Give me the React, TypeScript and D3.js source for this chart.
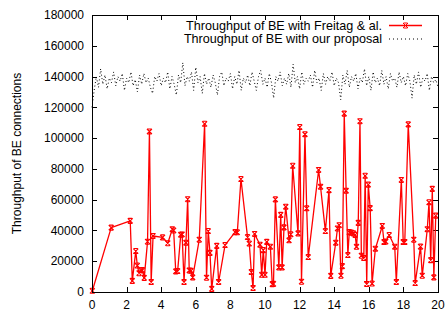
import React, { useEffect, useRef } from 'react';
import * as d3 from 'd3';

// red series: Throughput of BE with Freitag & al.
const freitagX = [
  0.02, 1.11, 2.21, 2.33, 2.53, 2.62, 2.72, 2.83, 2.92, 3.02, 3.21, 3.32, 3.42, 3.53, 4.08, 4.38,
  4.64, 4.72, 4.84, 4.95, 5.13, 5.21, 5.32, 5.43, 5.53, 5.62, 5.72, 5.82, 6.2, 6.51, 6.62, 6.72,
  6.82, 6.92, 7.21, 7.32, 7.69, 8.27, 8.4, 8.61, 8.99, 9.09, 9.21, 9.31, 9.4, 9.71, 9.81, 9.9,
  10.0, 10.1, 10.31, 10.42, 10.49, 10.6, 10.8, 10.91, 10.99, 11.1, 11.2, 11.39, 11.49, 11.6, 11.91, 12.01,
  12.11, 12.31, 12.41, 12.5, 13.1, 13.21, 13.49, 13.7, 13.8, 14.09, 14.19, 14.29, 14.39, 14.47, 14.58, 14.69,
  14.79, 14.87, 14.99, 15.11, 15.21, 15.29, 15.39, 15.49, 15.57, 15.71, 15.79, 15.88, 15.97, 16.08, 16.19, 16.38,
  16.78, 16.88, 16.98, 17.18, 17.5, 17.59, 17.88, 17.99, 18.08, 18.28, 18.6, 18.68, 18.99, 19.09, 19.38, 19.48,
  19.58, 19.67, 19.76, 19.87,
];
const freitagY = [
  800, 41800, 46200, 7200, 26600, 17200, 12200, 14100, 14200, 9200, 32700, 104300, 6500, 36400, 35500, 31700,
  40800, 40000, 13400, 13600, 37200, 37400, 6500, 32000, 60300, 14000, 13800, 9500, 34000, 109300, 9300, 39600,
  25400, 2000, 30000, 6500, 30500, 38900, 38800, 73400, 35700, 31500, 13000, 2600, 37700, 30700, 11200, 27200,
  11200, 32600, 29400, 5100, 5300, 60200, 16000, 50100, 16000, 42000, 55400, 33600, 37500, 82000, 38100, 107200,
  6700, 102500, 54400, 22700, 79300, 68400, 39600, 66200, 10500, 32000, 41300, 43400, 10600, 16800, 115900, 65800,
  24000, 38900, 38600, 38100, 37100, 29400, 44900, 111000, 23600, 22100, 75500, 5200, 69800, 54500, 5500, 28100,
  42900, 32500, 32800, 37000, 29400, 6500, 72800, 32500, 32500, 108900, 34000, 5800, 29500, 10600, 40800, 58300,
  20700, 67000, 9500, 49600,
];

// black dotted series: Throughput of BE with our proposal (thousands, one sample every 0.125)
const proposalStep = 0.125;
const proposalK = [
  120, 131, 140, 133, 145, 135, 141, 132, 139, 136, 143, 134, 140, 137, 142, 131,
  139, 136, 143, 134, 138, 130, 141, 135, 142, 136, 139, 133, 129, 140, 137, 142,
  134, 139, 136, 143, 132, 140, 135, 128, 141, 136, 149, 134, 140, 137, 143, 131,
  146, 136, 140, 129, 142, 135, 139, 133, 141, 136, 128, 140, 143, 134, 139, 137,
  142, 132, 140, 135, 144, 131, 139, 136, 141, 134, 143, 137, 131, 140, 144, 135,
  139, 133, 142, 136, 126, 140, 137, 143, 134, 139, 135, 142, 133, 148, 136, 140,
  132, 143, 135, 139, 137, 141, 133, 144, 136, 139, 131, 142, 135, 140, 137, 143,
  134, 139, 136, 125, 141, 135, 144, 133, 140, 137, 142, 132, 139, 136, 145, 134,
  140, 131, 143, 136, 139, 134, 144, 135, 140, 132, 142, 137, 139, 133, 143, 136,
  140, 134, 142, 137, 126, 141, 135, 143, 133, 139, 137, 142, 131, 140, 136, 138,
  133,
];

const xTicks = [0, 2, 4, 6, 8, 10, 12, 14, 16, 18, 20];
const yTicks = [0, 20000, 40000, 60000, 80000, 100000, 120000, 140000, 160000, 180000];
const legendLabels = ['Throughput of BE with Freitag & al.', 'Throughput of BE with our proposal'];
const yLabel = 'Throughput of BE connections';

const App: React.FC = () => {
  const svgRef = useRef<SVGSVGElement>(null);

  useEffect(() => {
    d3.select(svgRef.current).selectAll('*').remove();

    const width = 448;
    const height = 315;
    const margin = { top: 15, right: 10, bottom: 23, left: 92 };
    const font = '"Liberation Sans", Arial, Helvetica, sans-serif';

    const svg = d3.select(svgRef.current)
      .attr('width', width)
      .attr('height', height)
      .style('background', '#fff')
      .style('font-family', font);

    const x = d3.scaleLinear().domain([0, 20]).range([margin.left, width - margin.right]);
    const y = d3.scaleLinear().domain([0, 180000]).range([height - margin.bottom, margin.top]);
    const [x0, x1] = x.range();
    const [y0, y1] = y.range();
    const tick = 5;

    // ticks (gnuplot style: inward and mirrored)
    const tg = svg.append('g').attr('stroke', '#000').attr('stroke-width', 1);
    xTicks.forEach(t => {
      const px = Math.round(x(t)) + 0.5;
      tg.append('line').attr('x1', px).attr('x2', px).attr('y1', y0).attr('y2', y0 - tick);
      tg.append('line').attr('x1', px).attr('x2', px).attr('y1', y1).attr('y2', y1 + tick);
    });
    yTicks.forEach(t => {
      const py = Math.round(y(t)) + 0.5;
      tg.append('line').attr('x1', x0).attr('x2', x0 + tick).attr('y1', py).attr('y2', py);
      tg.append('line').attr('x1', x1).attr('x2', x1 - tick).attr('y1', py).attr('y2', py);
    });

    svg.append('g')
      .selectAll('text')
      .data(xTicks)
      .join('text')
      .attr('x', d => x(d))
      .attr('y', y0 + 17)
      .attr('text-anchor', 'middle')
      .attr('font-size', 12)
      .attr('fill', '#000')
      .text(d => d);

    svg.append('g')
      .selectAll('text')
      .data(yTicks)
      .join('text')
      .attr('x', x0 - 8)
      .attr('y', d => y(d))
      .attr('dy', '0.35em')
      .attr('text-anchor', 'end')
      .attr('font-size', 12)
      .attr('fill', '#000')
      .text(d => d);

    svg.append('text')
      .attr('transform', `translate(21,${(y0 + y1) / 2}) rotate(-90)`)
      .attr('text-anchor', 'middle')
      .attr('font-size', 12)
      .attr('fill', '#000')
      .text(yLabel);

    // proposal series, dotted black
    const proposal = proposalK.map((v, i) => ({ x: i * proposalStep, y: v * 1000 }));
    const line = d3.line<{ x: number; y: number }>().x(d => x(d.x)).y(d => y(d.y));
    svg.append('path')
      .datum(proposal)
      .attr('fill', 'none')
      .attr('stroke', '#000')
      .attr('stroke-width', 1)
      .attr('stroke-dasharray', '1,2.5')
      .attr('d', line);

    // Freitag series, red with x points
    const freitag = freitagX.map((v, i) => ({ x: v, y: freitagY[i] }));
    svg.append('path')
      .datum(freitag)
      .attr('fill', 'none')
      .attr('stroke', '#ff0000')
      .attr('stroke-width', 1.3)
      .attr('stroke-linejoin', 'round')
      .attr('d', line);

    const marker = 'M-2.5,-2.5L2.5,2.5M-2.5,2.5L2.5,-2.5M-2,-2.5L2,-2.5M-2,2.5L2,2.5';
    svg.append('g')
      .selectAll('path')
      .data(freitag)
      .join('path')
      .attr('transform', d => `translate(${x(d.x)},${y(d.y)})`)
      .attr('d', marker)
      .attr('fill', 'none')
      .attr('stroke', '#ff0000')
      .attr('stroke-width', 1.1);

    // frame
    svg.append('rect')
      .attr('x', x0 + 0.5)
      .attr('y', y1 + 0.5)
      .attr('width', x1 - x0)
      .attr('height', y0 - y1)
      .attr('fill', 'none')
      .attr('stroke', '#000')
      .attr('stroke-width', 1);

    // legend
    const lg = svg.append('g');
    const textEnd = 382;
    const sample = [389, 422];
    const rows = [25.5, 39];
    legendLabels.forEach((label, i) => {
      lg.append('text')
        .attr('x', textEnd)
        .attr('y', rows[i])
        .attr('dy', '0.35em')
        .attr('text-anchor', 'end')
        .attr('font-size', 12.6)
        .attr('fill', '#000')
        .text(label);
    });
    lg.append('line')
      .attr('x1', sample[0]).attr('x2', sample[1])
      .attr('y1', rows[0]).attr('y2', rows[0])
      .attr('stroke', '#ff0000').attr('stroke-width', 1.3);
    lg.append('path')
      .attr('transform', `translate(${(sample[0] + sample[1]) / 2},${rows[0]})`)
      .attr('d', marker)
      .attr('fill', 'none')
      .attr('stroke', '#ff0000');
    lg.append('line')
      .attr('x1', sample[0]).attr('x2', sample[1])
      .attr('y1', rows[1]).attr('y2', rows[1])
      .attr('stroke', '#000').attr('stroke-width', 1)
      .attr('stroke-dasharray', '1,3');
  }, []);

  return <svg ref={svgRef} style={{ position: 'absolute', left: 0, top: 0 }}></svg>;
};

export default App;
